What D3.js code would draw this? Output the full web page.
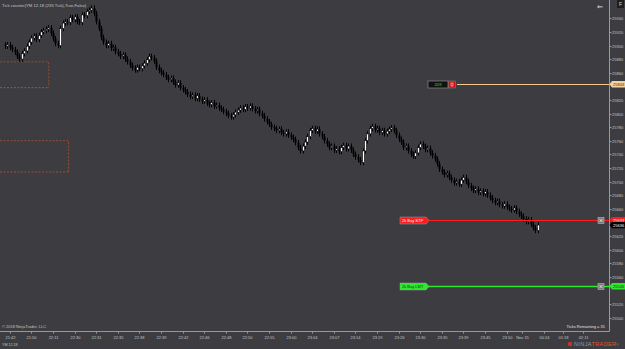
<!DOCTYPE html>
<html><head><meta charset="utf-8">
<script src="https://cdn.jsdelivr.net/npm/d3@7"></script>
<style>html,body{margin:0;padding:0;background:#3d3d41;overflow:hidden}svg{display:block}</style>
</head><body>
<script>
// ---- data ----
const closes = [25899,25901,25897,25894,25890,25884,25880,25888,25892,25899,25905,25911,25914,25909,25915,25920,25922,25924,25926,25918,
25910,25903,25900,25925,25933,25935,25934,25941,25938,25942,25935,25934,25945,25944,25950,25952,25955,25947,25935,25925,
25912,25905,25900,25903,25896,25897,25891,25888,25884,25886,25880,25876,25871,25867,25864,25868,25866,25870,25874,25879,
25884,25882,25877,25868,25863,25860,25857,25853,25850,25852,25846,25842,25845,25838,25835,25832,25828,25825,25827,25822,
25826,25821,25818,25820,25815,25813,25816,25811,25812,25808,25806,25803,25800,25797,25795,25798,25802,25805,25808,25806,
25810,25808,25811,25807,25804,25806,25800,25797,25792,25788,25784,25780,25778,25775,25777,25772,25770,25773,25768,25765,
25762,25757,25750,25745,25752,25758,25766,25775,25778,25774,25777,25770,25766,25760,25755,25750,25752,25746,25748,25744,
25750,25753,25748,25752,25746,25740,25736,25732,25728,25745,25760,25770,25778,25781,25776,25778,25772,25775,25770,25774,
25777,25779,25775,25768,25762,25758,25750,25752,25745,25740,25737,25742,25750,25755,25752,25747,25749,25742,25738,25733,
25726,25718,25714,25710,25712,25706,25702,25698,25700,25696,25702,25706,25700,25694,25690,25687,25689,25684,25686,25682,
25685,25680,25676,25672,25669,25671,25666,25664,25667,25662,25660,25658,25661,25656,25652,25649,25645,25641,25644,25637,
25632,25628,25636];
const priceTicks = [25940,25920,25900,25880,25860,25820,25800,25780,25760,25740,25720,25700,25680,25660,25620,25600,25580,25560,25520,25500];
const timeLabels = ["21:42","21:50","22:11","22:30","22:31","22:35","22:38","22:39","22:42","22:46","22:48","22:50","22:55","23:00","23:04","23:07","23:14","23:19","23:26","23:30","23:35","23:39","23:45","23:50","","Nov 15","00:24","01:18","02:11"];
const timeIdx = [2,11,20,29,38,47,56,65,74,83,92,101,110,119,128,137,146,155,164,173,182,191,200,209,209,215.5,224.6,232.5,241];
const orders = [
  {label:"2k  Buy STP", price:25643, color:"#ff1c1c", text:"#fff", tag:"25643"},
  {label:"2k  Buy LMT", price:25546, color:"#2ee82e", text:"#143a14", tag:"25546"}
];
const position = {qty:"209", price:25843, tag:"25843"};
const lastPrice = 25636;
const zones = [
  {p1:25876, p2:25838, i1:-5, i2:18.2, color:"#a4522e", bottom:"#3f8a8a"},
  {p1:25760, p2:25714, i1:-5, i2:26.5, color:"#b2502c", bottom:"#b2502c"}
];

// ---- layout ----
const W = 625, H = 349;
const svg = d3.select("body").append("svg").attr("width",W).attr("height",H)
  .style("font-family","'Liberation Sans', Arial, sans-serif");
svg.append("rect").attr("width",W).attr("height",H).attr("fill","#3d3d41");

const axisX = 609.5, axisY = 331.5;
const x = d3.scaleLinear().domain([0,1]).range([5,7.4]);
const y = d3.scaleLinear().domain([25800,25500]).range([113.5,317.5]);
const txt = "#c4c4c4";

// title
svg.append("text").attr("x",2).attr("y",7).attr("font-size",4.2).attr("fill",txt)
  .text("Tick counter(YM 12-18 (235 Tick),True,False)");

// zones
zones.forEach(z=>{
  const x1 = x(z.i1), x2 = x(z.i2), y1 = y(z.p1), y2 = y(z.p2);
  svg.append("path").attr("d",`M${x1},${y1}H${x2}V${y2}`)
    .attr("fill","none").attr("stroke",z.color).attr("stroke-width",0.8).attr("stroke-dasharray","2,1.5");
  svg.append("line").attr("x1",x1).attr("x2",x2).attr("y1",y2).attr("y2",y2)
    .attr("stroke",z.bottom).attr("stroke-width",0.8).attr("stroke-dasharray","2,1.5");
});

// candles
const opens = closes.map((c,i)=> i ? closes[i-1] : c + 2);
const g = svg.append("g");
closes.forEach((c,i)=>{
  const o = opens[i];
  const hi = Math.max(o,c)+4, lo = Math.min(o,c)-4;
  const cx = Math.round(x(i))+0.5;
  g.append("line").attr("x1",cx).attr("x2",cx).attr("y1",y(hi)).attr("y2",y(lo)).attr("stroke","#000").attr("stroke-width",1);
  const top = y(Math.max(o,c)), bot = y(Math.min(o,c));
  const up = c>o;
  g.append("rect").attr("x",cx-1).attr("width",2).attr("y",top).attr("height",Math.max(1,bot-top))
    .attr("fill", up ? "#ffffff" : "#000000").attr("stroke","#000").attr("stroke-width",up?0.6:0);
});

// position line
const py = Math.round(y(position.price))+0.5;
svg.append("line").attr("x1",457).attr("x2",axisX).attr("y1",py).attr("y2",py).attr("stroke","#f2c88e").attr("stroke-width",1);
svg.append("rect").attr("x",428).attr("y",py-3.5).attr("width",20).attr("height",7).attr("fill","#111").attr("stroke","#8a8a8a").attr("stroke-width",0.7);
svg.append("text").attr("x",438).attr("y",py+1.5).attr("text-anchor","middle").attr("font-size",4.2).attr("fill","#3fd43f").text(position.qty);
svg.append("rect").attr("x",448.5).attr("y",py-3.5).attr("width",7).attr("height",7).attr("fill","#d01010").attr("stroke","#8a8a8a").attr("stroke-width",0.5);
svg.append("rect").attr("x",451).attr("y",py-1.5).attr("width",2).attr("height",3).attr("fill","none").attr("stroke","#fff").attr("stroke-width",0.5);

// order lines
orders.forEach((o,k)=>{
  const oy = Math.round(y(o.price))+0.5;
  svg.append("line").attr("x1",428).attr("x2",axisX).attr("y1",oy).attr("y2",oy).attr("stroke",o.color).attr("stroke-width",k?1.6:1);
  svg.append("path").attr("d",`M400,${oy-3.5}H426L429,${oy}L426,${oy+3.5}H400Z`).attr("fill",o.color).attr("stroke","#9a9a9a").attr("stroke-width",0.5);
  svg.append("text").attr("x",402).attr("y",oy+1.5).attr("font-size",4).attr("fill",o.text).text(o.label);
  svg.append("rect").attr("x",598).attr("y",oy-3).attr("width",6).attr("height",6).attr("fill","#777").attr("stroke","#ccc").attr("stroke-width",0.5);
  svg.append("path").attr("d",`M599.5,${oy-1.5}L602.5,${oy+1.5}M602.5,${oy-1.5}L599.5,${oy+1.5}`).attr("stroke","#fff").attr("stroke-width",0.7);
});

// price axis
svg.append("line").attr("x1",axisX).attr("x2",axisX).attr("y1",0).attr("y2",axisY).attr("stroke","#9a9a9a").attr("stroke-width",1);
priceTicks.forEach(p=>{
  const ty = Math.round(y(p))+0.5;
  svg.append("line").attr("x1",axisX).attr("x2",axisX+2).attr("y1",ty).attr("y2",ty).attr("stroke","#9a9a9a");
  svg.append("text").attr("x",612).attr("y",ty+1.5).attr("font-size",4).attr("fill",txt).text(p);
});
function tag(p, fill, color, label){
  const ty = y(p);
  svg.append("path").attr("d",`M${axisX},${ty}L${axisX+2.5},${ty-3.3}H625V${ty+3.3}H${axisX+2.5}Z`).attr("fill",fill);
  svg.append("text").attr("x",613).attr("y",ty+1.5).attr("font-size",4).attr("fill",color).text(label);
}
tag(position.price,"#f5d29c","#3a2a10",position.tag);
tag(orders[0].price,orders[0].color,"#fff",orders[0].tag);
tag(lastPrice,"#000","#fff",String(lastPrice));
tag(orders[1].price,orders[1].color,"#143a14",orders[1].tag);

// F box and arrow
svg.append("rect").attr("x",617).attr("y",0).attr("width",7).attr("height",8).attr("fill","#1e1e1e");
svg.append("text").attr("x",620.5).attr("y",6).attr("text-anchor","middle").attr("font-size",5).attr("fill","#ddd").text("F");
svg.append("text").attr("x",600).attr("y",9).attr("text-anchor","middle").attr("font-size",7).attr("fill","#e8e8e8").text("\u21D0");

// time axis
svg.append("line").attr("x1",0).attr("x2",axisX).attr("y1",axisY).attr("y2",axisY).attr("stroke","#9a9a9a");
timeIdx.forEach((ti,k)=>{
  const tx = Math.round(x(ti))+0.5;
  svg.append("line").attr("x1",tx).attr("x2",tx).attr("y1",axisY).attr("y2",axisY+2).attr("stroke","#9a9a9a");
  if(timeLabels[k]) svg.append("text").attr("x",tx).attr("y",339).attr("text-anchor","middle").attr("font-size",4).attr("fill",txt).text(timeLabels[k]);
});

// footer texts
svg.append("text").attr("x",2).attr("y",328).attr("font-size",4).attr("fill",txt).text("\u00A9 2018 NinjaTrader, LLC");
svg.append("text").attr("x",2).attr("y",346).attr("font-size",3.6).attr("fill",txt).text("YM 12-18");
svg.append("text").attr("x",605).attr("y",327.5).attr("text-anchor","end").attr("font-size",4).attr("fill","#e0e0e0").text("Ticks Remaining = 31");
// logo
svg.append("circle").attr("cx",570).attr("cy",344).attr("r",2.3).attr("fill","#c8322a");
const logo = svg.append("text").attr("x",574).attr("y",346).attr("font-size",5.5).attr("letter-spacing",0.4);
logo.append("tspan").attr("fill","#9a9a9a").text("NINJA");
logo.append("tspan").attr("fill","#e2542c").text("TRADER");
logo.append("tspan").attr("fill","#9a9a9a").attr("font-size",3).text("\u00AE");
</script>
</body></html>
